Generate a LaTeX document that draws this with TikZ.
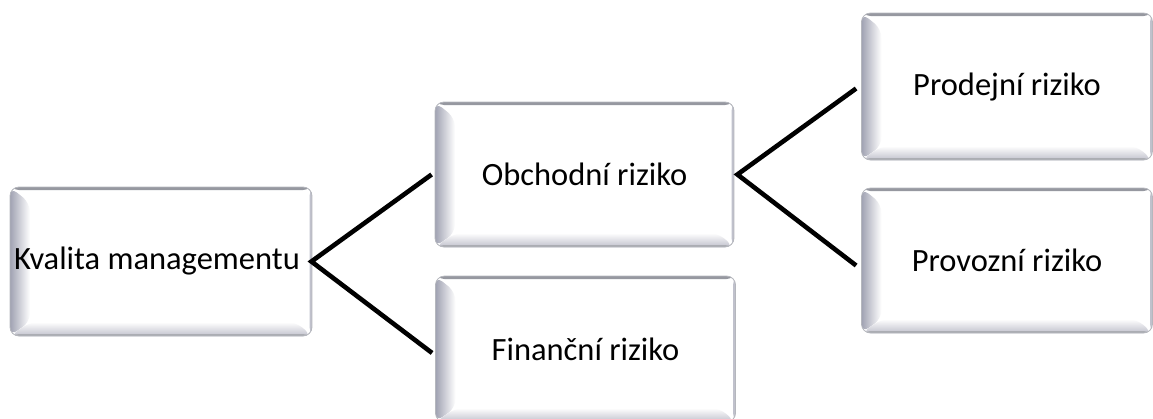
\documentclass[tikz,border=0pt]{standalone}
\usepackage{fontspec}
\setmainfont{Carlito}
\usetikzlibrary{calc}
\definecolor{bevdark}{RGB}{160,162,178}
\definecolor{bevmid}{RGB}{192,193,204}
\definecolor{bevrim}{RGB}{150,152,160}
\tikzset{
  bevelbox/.style={
    rectangle, rounded corners=9pt, fill=white, draw=bevrim!70, line width=0.8pt,
    inner sep=1pt, font=\fontsize{32.5}{38}\selectfont,
    path picture={
      \path (path picture bounding box.south west) coordinate (ppsw)
            (path picture bounding box.north east) coordinate (ppne);
      \path (ppsw|-ppne) coordinate (ppnw) (ppne|-ppsw) coordinate (ppse);
      \fill[left color=bevdark, right color=white]
        (ppsw) -- (ppnw) -- ([shift={(20pt,-16pt)}]ppnw) -- ([shift={(20pt,14pt)}]ppsw) -- cycle;
      \fill[top color=white, bottom color=bevmid]
        (ppsw) -- ([shift={(20pt,14pt)}]ppsw) -- ([shift={(-16pt,14pt)}]ppse) -- (ppse) -- cycle;
      \fill[bevrim] (ppnw) rectangle ([yshift=-3pt]ppne);
      \fill[bevmid] ([xshift=-2.5pt]ppse) rectangle (ppne);
      \fill[bevrim!80] (ppsw) rectangle ([yshift=2pt]ppse);
    }
  },
  link/.style={line width=4.6pt, black}
}
\begin{document}
\begin{tikzpicture}[x=1pt,y=-1pt]
  \useasboundingbox (0,0) rectangle (1153,418);
  \node[bevelbox, minimum width=302pt, minimum height=149pt] (kval) at (161,261.5) {\raisebox{-3pt}{\hspace*{-8pt}Kvalita managementu}};
  \node[bevelbox, minimum width=299pt, minimum height=145pt] (obch) at (584.5,174.5) {\raisebox{-3pt}{Obchodní riziko}};
  \node[bevelbox, minimum width=300pt, minimum height=146pt] (fin) at (585.5,349) {\raisebox{-3pt}{Finanční riziko}};
  \node[bevelbox, minimum width=291pt, minimum height=147pt] (prod) at (1007,86.5) {\raisebox{-3pt}{Prodejní riziko}};
  \node[bevelbox, minimum width=291pt, minimum height=145pt] (prov) at (1007,260.5) {\raisebox{-5pt}{Provozní riziko}};
  \coordinate (kapex) at ([xshift=-1pt]kval.east);
  \coordinate (oapex) at ([xshift=3pt]obch.east);
  \draw[link] ([shift={(-3pt,0pt)}]obch.west) -- (kapex) -- ([shift={(-3pt,-4pt)}]fin.west);
  \draw[link] ([shift={(-5pt,-2pt)}]prod.west) -- (oapex) -- ([shift={(-5pt,-5pt)}]prov.west);
\end{tikzpicture}
\end{document}
